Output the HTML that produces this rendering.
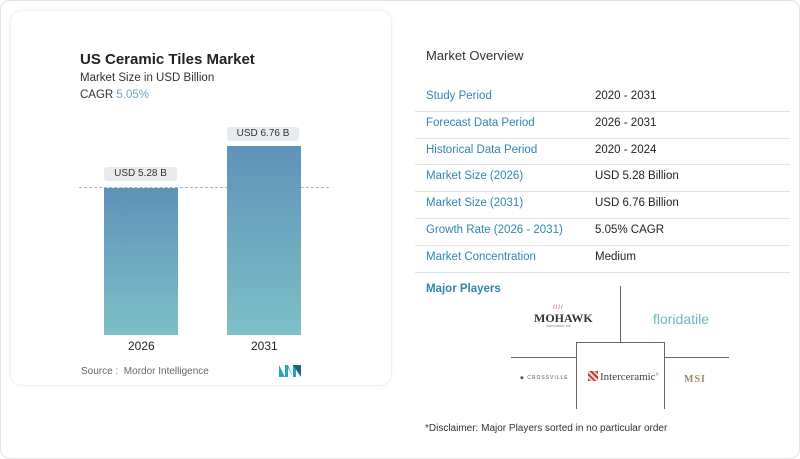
<!DOCTYPE html>
<html><head><style>
*{margin:0;padding:0;box-sizing:border-box}
body{width:800px;height:459px;background:#fff;font-family:"Liberation Sans",sans-serif;position:relative;overflow:hidden}
.a{position:absolute;white-space:nowrap}
.frame{position:absolute;left:0;top:0;width:800px;height:459px;border:1px solid #e3e3e3;border-radius:10px}
.card{position:absolute;left:10px;top:10px;width:382px;height:376px;border:1px solid #f0f0f0;border-radius:12px;box-shadow:0 0 6px rgba(0,0,0,.04)}
.bar{position:absolute;background:linear-gradient(#5f92b8,#7dc0c6)}
.lbl{position:absolute;background:#e8ecef;border-radius:3px;font-size:10px;color:#333;text-align:center;line-height:14px}
.row{position:absolute;left:415px;width:375px;height:1px;background:#e2e2e2}
.k{color:#2f86ad;font-size:11.5px}
.v{color:#222;font-size:11.5px}
.ln{position:absolute;background:#666}
</style></head><body>
<div class="frame"></div>
<div class="card"></div>
<div class="a" style="left:80px;top:51px;font-size:15px;font-weight:bold;color:#222">US Ceramic Tiles Market</div>
<div class="a" style="left:80px;top:72px;font-size:11.5px;color:#333">Market Size in USD Billion</div>
<div class="a" style="left:80px;top:89px;font-size:11.5px;color:#333">CAGR <span style="color:#6ea6c4">5.05%</span></div>
<div style="position:absolute;left:79px;top:187px;width:250px;border-top:1px dashed #a8b4bc"></div>
<div class="bar" style="left:104px;top:188px;width:74px;height:147px"></div>
<div class="bar" style="left:227px;top:146px;width:74px;height:189px"></div>
<div class="lbl" style="left:104px;top:167px;width:73px">USD 5.28 B</div>
<div class="lbl" style="left:227px;top:127px;width:72px">USD 6.76 B</div>
<div class="a" style="left:128px;top:339px;font-size:12px;color:#222">2026</div>
<div class="a" style="left:251px;top:339px;font-size:12px;color:#222">2031</div>
<div class="a" style="left:81px;top:366px;font-size:10px;color:#666">Source :&nbsp; Mordor Intelligence</div>
<svg class="a" style="left:279px;top:365px" width="22" height="12"><path d="M0 12V0l6 12V0h3l5 12V0h3v12h-3L9 3v9z" fill="#2aa3c0"/><path d="M14 0h8v12z" fill="#1f5f8b"/></svg>

<div class="a" style="left:426px;top:48px;font-size:13px;color:#333">Market Overview</div>
<div class="a k" style="left:426px;top:90px">Study Period</div><div class="a v" style="left:595px;top:90px">2020 - 2031</div>
<div class="row" style="top:111px"></div>
<div class="a k" style="left:426px;top:117px">Forecast Data Period</div><div class="a v" style="left:595px;top:117px">2026 - 2031</div>
<div class="row" style="top:138px"></div>
<div class="a k" style="left:426px;top:144px">Historical Data Period</div><div class="a v" style="left:595px;top:144px">2020 - 2024</div>
<div class="row" style="top:164px"></div>
<div class="a k" style="left:426px;top:170px">Market Size (2026)</div><div class="a v" style="left:595px;top:170px">USD 5.28 Billion</div>
<div class="row" style="top:191px"></div>
<div class="a k" style="left:426px;top:197px">Market Size (2031)</div><div class="a v" style="left:595px;top:197px">USD 6.76 Billion</div>
<div class="row" style="top:218px"></div>
<div class="a k" style="left:426px;top:224px">Growth Rate (2026 - 2031)</div><div class="a v" style="left:595px;top:224px">5.05% CAGR</div>
<div class="row" style="top:245px"></div>
<div class="a k" style="left:426px;top:251px">Market Concentration</div><div class="a v" style="left:595px;top:251px">Medium</div>
<div class="row" style="top:272px"></div>
<div class="a" style="left:426px;top:283px;font-size:11.5px;color:#2f86ad;font-weight:bold">Major Players</div>

<div class="ln" style="left:620px;top:286px;width:1px;height:57px"></div>
<div style="position:absolute;left:576px;top:342px;width:89px;height:67px;border:1px solid #666;border-bottom:none"></div>
<div class="ln" style="left:511px;top:357px;width:65px;height:1px"></div>
<div class="ln" style="left:665px;top:357px;width:64px;height:1px"></div>

<div class="a" style="left:535px;top:305px;font-size:6px;color:#c33;letter-spacing:1px;left:553px">////</div>
<div class="a" style="left:534px;top:311px;font-family:'Liberation Serif',serif;font-weight:bold;font-size:12px;color:#333">MOHAWK</div>
<div class="a" style="left:546px;top:324px;font-size:3px;color:#777">INDUSTRIES, INC</div>
<div class="a" style="left:653px;top:311px;font-size:14px;color:#6bb8c2">floridatile</div>
<div class="a" style="left:520px;top:375px;font-size:5px;color:#555;letter-spacing:1px">◆ CROSSVILLE</div>
<div class="a" style="left:588px;top:371px;width:10px;height:10px;background:repeating-linear-gradient(45deg,#c33 0 2px,#ddd 2px 4px)"></div>
<div class="a" style="left:600px;top:371px;font-family:'Liberation Serif',serif;font-size:11px;color:#444">Interceramic<sup style="font-size:4px">®</sup></div>
<div class="a" style="left:684px;top:374px;font-family:'Liberation Serif',serif;font-weight:bold;font-size:10px;color:#9a8a6a;letter-spacing:1px">MSI</div>

<div class="a" style="left:425px;top:423px;font-size:10px;color:#333">*Disclaimer: Major Players sorted in no particular order</div>
</body></html>
